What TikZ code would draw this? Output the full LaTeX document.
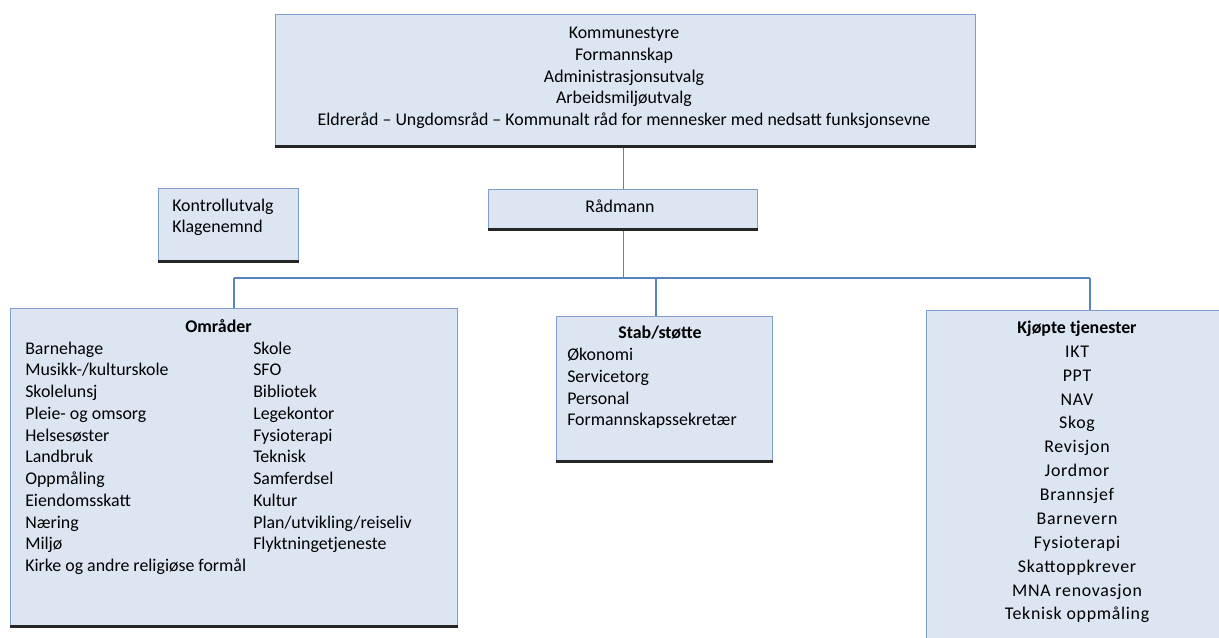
\documentclass[tikz,border=0pt]{standalone}
\usepackage{fontspec}
\setmainfont{Carlito}
\newfontfamily\spacedfont[LetterSpace=4]{Carlito}
\definecolor{orgfill}{HTML}{DCE6F2}
\definecolor{orgedge}{HTML}{7E9FCC}
\definecolor{linkblue}{HTML}{5584BE}
\tikzset{
  orgbox/.style={draw=orgedge, fill=orgfill, line width=1pt, anchor=north west, inner sep=0pt},
  orgshadow/.style={draw=black!85, line width=2.2pt},
  orglink/.style={draw=linkblue, line width=0.9pt},
  orgtext/.style={inner sep=0pt, font=\fontsize{13.4}{16.3}\selectfont},
}
\begin{document}
\begin{tikzpicture}[x=0.75pt,y=0.75pt,yscale=-1,xscale=1]
    \useasboundingbox (0,0) rectangle (1219,637);
    \clip (0,0) rectangle (1219,637);

    %Straight Lines
    \coordinate (busW) at (234,278);
    \coordinate (busStab) at (656,278);
    \coordinate (busE) at (1090,278);

    %Shape: Rectangle
    \draw (275,14) node [orgbox, minimum width=525pt, minimum height=99.75pt] (styre) {};
    %Shape: Rectangle
    \draw (488,189) node [orgbox, minimum width=201.75pt, minimum height=30.75pt] (radmann) {};
    %Shape: Rectangle
    \draw (158,188) node [orgbox, minimum width=105pt, minimum height=55.5pt] (kontroll) {};
    %Shape: Rectangle
    \draw (10,308) node [orgbox, minimum width=335.25pt, minimum height=239.25pt] (omr) {};
    %Shape: Rectangle
    \draw (556,316) node [orgbox, minimum width=162pt, minimum height=109.5pt] (stab) {};
    %Shape: Rectangle
    \draw (926,310) node [orgbox, minimum width=228pt, minimum height=255pt] (kjop) {};

    %Straight Lines
    \draw [orglink] (radmann.north |- styre.south) -- (radmann.north);
    \draw [orglink] (radmann.south) -- (radmann.south |- busW);
    \draw [orglink] (busW) -- (busE);
    \draw [orglink] (busW) -- (busW |- omr.north);
    \draw [orglink] (busStab) -- (busStab |- stab.north);
    \draw [orglink] (busE) -- (busE |- kjop.north);

    %Straight Lines (shadows)
    \draw [orgshadow] ([yshift=-1.1pt]styre.south west) -- ([yshift=-1.1pt]styre.south east);
    \draw [orgshadow] ([yshift=-1.1pt]radmann.south west) -- ([yshift=-1.1pt]radmann.south east);
    \draw [orgshadow] ([yshift=-1.1pt]kontroll.south west) -- ([yshift=-1.1pt]kontroll.south east);
    \draw [orgshadow] ([yshift=-1.1pt]omr.south west) -- ([yshift=-1.1pt]omr.south east);
    \draw [orgshadow] ([yshift=-1.1pt]stab.south west) -- ([yshift=-1.1pt]stab.south east);

    % Text Node
    \draw (624,23.3) node [orgtext, anchor=north] (styretxt) {\begin{tabular}{@{}c@{}}Kommunestyre\\Formannskap\\Administrasjonsutvalg\\Arbeidsmiljøutvalg\\Eldreråd – Ungdomsråd – Kommunalt råd for mennesker med nedsatt funksjonsevne\end{tabular}};
    % Text Node
    \draw (620,197.3) node [orgtext, anchor=north] (radmanntxt) {\begin{tabular}{@{}c@{}}Rådmann\end{tabular}};
    % Text Node
    \draw (172,196.8) node [orgtext, anchor=north west, font=\fontsize{13.4}{15.75}\selectfont] (kontrolltxt) {\begin{tabular}{@{}l@{}}Kontrollutvalg\\Klagenemnd\end{tabular}};
    % Text Node
    \draw (25,317) node [orgtext, anchor=north west] (omrtxt) {\begin{tabular}{@{}p{171pt}@{}l@{}}
      \multicolumn{2}{c}{\textbf{Områder}}\\
      Barnehage & Skole\\
      Musikk-/kulturskole & SFO\\
      Skolelunsj & Bibliotek\\
      Pleie- og omsorg & Legekontor\\
      Helsesøster & Fysioterapi\\
      Landbruk & Teknisk\\
      Oppmåling & Samferdsel\\
      Eiendomsskatt & Kultur\\
      Næring & Plan/utvikling/reiseliv\\
      Miljø & Flyktningetjeneste\\
      Kirke og andre religiøse formål &
    \end{tabular}};
    % Text Node
    \draw (660,323.3) node [orgtext, anchor=north] (stabtitle) {\begin{tabular}{@{}c@{}}\textbf{Stab/støtte}\end{tabular}};
    % Text Node
    \draw (567,345.3) node [orgtext, anchor=north west] (stabtxt) {\begin{tabular}{@{}l@{}}Økonomi\\Servicetorg\\Personal\\Formannskapssekretær\end{tabular}};
    % Text Node
    \draw (1077,316.5) node [orgtext, anchor=north, font=\fontsize{13.4}{17.9}\spacedfont] (kjoptxt) {\begin{tabular}{@{}c@{}}{\setmainfont{Carlito}\normalfont\bfseries Kjøpte tjenester}\\IKT\\PPT\\NAV\\Skog\\Revisjon\\Jordmor\\Brannsjef\\Barnevern\\Fysioterapi\\Skattoppkrever\\MNA renovasjon\\Teknisk oppmåling\end{tabular}};
\end{tikzpicture}
\end{document}
